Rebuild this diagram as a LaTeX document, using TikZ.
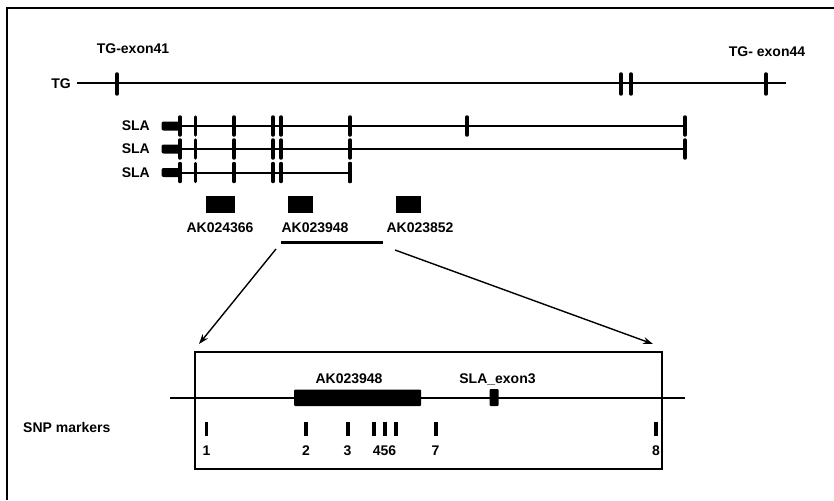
\documentclass[tikz,border=0pt]{standalone}
\usepackage{fontspec}
\setmainfont{Liberation Sans}[BoldFont={* Bold}]
\usetikzlibrary{arrows.meta}
\tikzset{
  lbl/.style={font=\fontsize{14}{16}\selectfont\bfseries, inner sep=0pt},
  gene/.style={line width=2pt},
  exontick/.style={line width=3.5pt, line cap=round},
  snptick/.style={line width=3.5pt},
  zoomarrow/.style={line width=1.4pt, -{Stealth[length=10pt,width=7pt]}},
}
\begin{document}
\begin{tikzpicture}[x=1pt,y=-1pt]
\useasboundingbox (0,0) rectangle (834,500);
% outer frame (top and left edges)
\draw[line width=2pt] (7,500) -- (7,8) -- (834,8);

% TG gene
\node[lbl] (tgex41) at (133,49) {TG-exon41};
\node[lbl] (tgex44) at (767,51.5) {TG- exon44};
\node[lbl, anchor=east] (tg) at (71,83.3) {TG};
\coordinate (tgL) at (77,83.3);
\coordinate (tgR) at (786,83.3);
\draw[gene] (tgL) -- (tgR);
\foreach \x in {117,621,631,766} \draw[exontick] (\x,74) -- (\x,94);

% SLA transcripts
\foreach \y/\e/\n in {126/685/1,149/685/2,172.5/350/3}{
  \node[lbl, anchor=east] (sla\n) at (150,\y) {SLA};
  \coordinate (slaS\n) at (178,\y);
  \coordinate (slaE\n) at (\e,\y);
  \draw[gene] (slaS\n) -- (slaE\n);
  \fill[rounded corners=2pt] (161.5,\y-4.5) rectangle (180,\y+4.5);
  \foreach \x in {180,195.5,234,273,281,350} \draw[exontick] (\x,\y-9) -- (\x,\y+9);
  \draw[exontick] (\e,\y-9) -- (\e,\y+9);
}
\draw[exontick] (467,117) -- (467,135);

% AK clones
\fill (205.5,195.5) rectangle (234.5,212.5);
\fill (288,195.5) rectangle (312.5,212.5);
\fill (396,195.5) rectangle (421,212.5);
\node[lbl] (ak1) at (220,228) {AK024366};
\node[lbl] (ak2) at (315,228) {AK023948};
\node[lbl] (ak3) at (420,228) {AK023852};
\coordinate (ulL) at (281,242);
\coordinate (ulR) at (383,242);
\draw[line width=3pt] (ulL) -- (ulR);

% zoom box
\coordinate (zTL) at (195,351.5);
\coordinate (zBR) at (662,468.5);
\draw[line width=2pt] (zTL) rectangle (zBR);
\coordinate (a1s) at (276,249);
\coordinate (a1e) at (199,344);
\coordinate (a2s) at (395,250);
\coordinate (a2e) at (653,344);
\draw[zoomarrow] (a1s) -- (a1e);
\draw[zoomarrow] (a2s) -- (a2e);

\coordinate (lineL) at (170,397.5);
\coordinate (lineR) at (685,397.5);
\draw[gene] (lineL) -- (lineR);
\fill[rounded corners=1pt] (294,389.5) rectangle (421,406);
\fill[rounded corners=1pt] (489.5,389) rectangle (498.5,406);
\node[lbl] (akz) at (349,379) {AK023948};
\node[lbl] (slaex3) at (497.5,379) {SLA\_exon3};

% SNP markers
\node[lbl, anchor=west] (snp) at (23,427.5) {SNP markers};
\foreach \x in {206.5,306,348,374,385,396,436,656} \draw[snptick] (\x,421.5) -- (\x,436);
\node[lbl] (s1) at (206.5,451) {1};
\node[lbl] (s2) at (306,451) {2};
\node[lbl] (s3) at (347.5,451) {3};
\node[lbl] (s456) at (384.5,451) {456};
\node[lbl] (s7) at (435.5,451) {7};
\node[lbl] (s8) at (656,451) {8};
\end{tikzpicture}
\end{document}
